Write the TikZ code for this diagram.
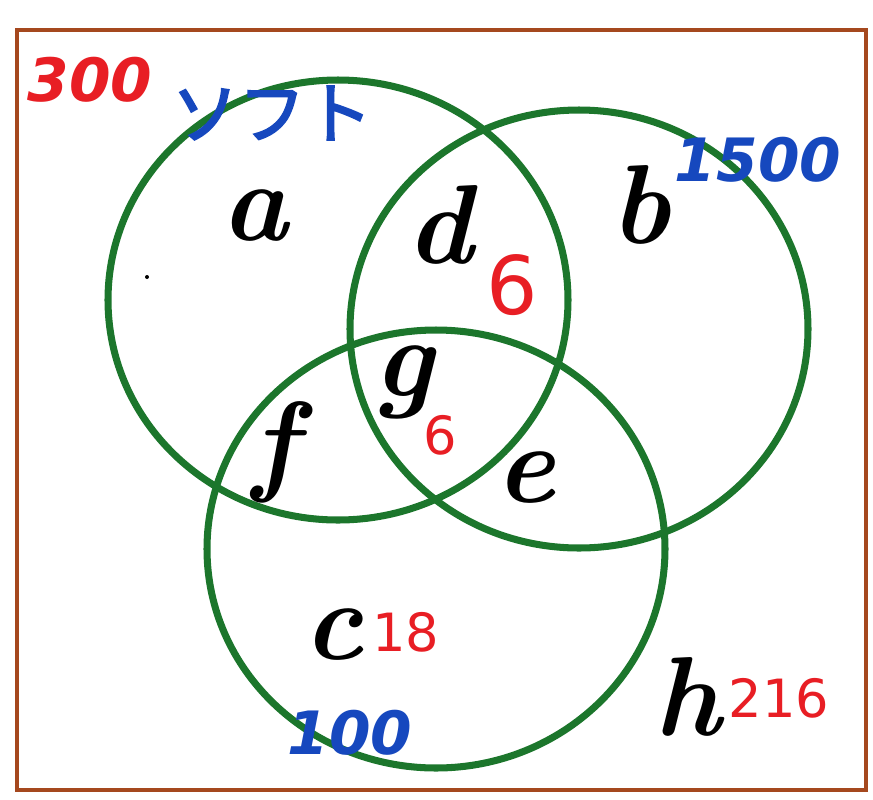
\documentclass[tikz,border=0pt]{standalone}
\usepackage{fontspec}
\usepackage{xcolor}
\usepackage{tikz}
\newfontfamily\jpfont[AutoFakeBold=3]{Noto Sans CJK JP}
\newfontfamily\handfont{DejaVu Sans}

\definecolor{ringgreen}{RGB}{28,118,44}
\definecolor{framebrown}{RGB}{165,72,30}
\definecolor{penred}{RGB}{232,30,36}
\definecolor{penblue}{RGB}{22,72,190}

\begin{document}
\begin{tikzpicture}[
  x=0.02cm, y=-0.02cm,
  venn/.style={draw=ringgreen, line width=4pt},
  frame/.style={draw=framebrown, line width=2.6pt},
  lbl/.style={inner sep=0pt, text=black,
    font=\fontsize{64}{64}\selectfont\bfseries\itshape},
  num/.style={inner sep=0pt, text=penred, font=\handfont\fontsize{30}{30}\selectfont},
  tag/.style={inner sep=0pt, text=penblue,
    font=\handfont\fontsize{34}{34}\selectfont\bfseries\itshape}
]
\useasboundingbox (0,0) rectangle (873,799);

% outer frame
\draw[frame] (17,30) rectangle (866,790);

% the three sets
\draw[venn] (338,300) ellipse [x radius=230, y radius=220];
\draw[venn] (579,329) ellipse [x radius=229, y radius=219];
\draw[venn] (436,549) ellipse [x radius=229, y radius=219];

% region letters
\node[lbl] (a) at (255,216) {a};
\node[lbl] (b) at (640,205) {b};
\node[lbl] (c) at (333,635) {c};
\node[lbl] (d) at (440,225) {d};
\node[lbl] (e) at (525,478) {e};
\node[lbl] (f) at (275,452) {f};
\node[lbl] (g) at (403,382) {g};
\node[lbl] (h) at (688,697) {h};

% counts
\node[num, font=\handfont\fontsize{46}{46}\selectfont] (nd) at (512,285) {6};
\node[num] (ng) at (440,435) {6};
\node[num] (nc) at (406,632) {18};
\node[num] (nh) at (779,698) {216};
\node[num, font=\handfont\fontsize{34}{34}\selectfont\bfseries\itshape] (total) at (90,80) {300};

% set names
\node[tag, font=\jpfont\bfseries\fontsize{38}{38}\selectfont] (soft) at (272,113) {ソフト};
\node[tag] (nb) at (758,160) {1500};
\node[tag] (nc2) at (350,733) {100};

% stray dot
\fill (147,277) circle (2);

\end{tikzpicture}
\end{document}
